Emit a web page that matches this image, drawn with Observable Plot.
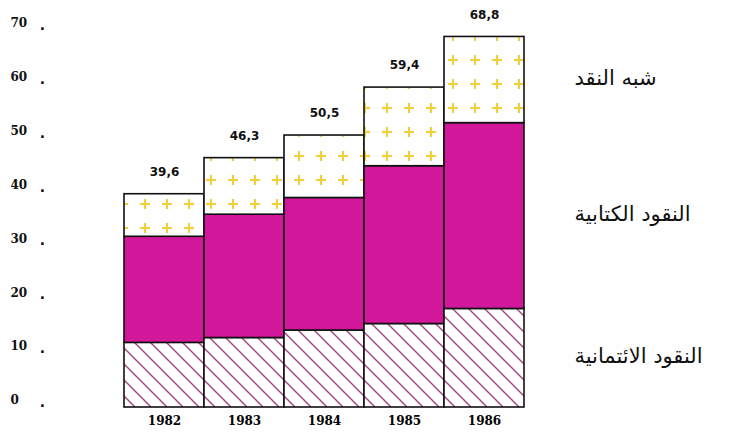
<!DOCTYPE html>
<html>
<head>
<meta charset="utf-8">
<script src="https://cdn.jsdelivr.net/npm/d3@7"></script>
<script src="https://cdn.jsdelivr.net/npm/@observablehq/plot@0.6"></script>
<style>
  html, body { margin: 0; padding: 0; background: #fff; }
  #chart svg { display: block; }
</style>
</head>
<body>
<div id="chart"></div>
<script>
// ---- data ----
const years = ["1982", "1983", "1984", "1985", "1986"];
const seriesNames = ["النقود الائتمانية", "النقود الكتابية", "شبه النقد"];
const creditMoney = [12.0, 12.9, 14.3, 15.5, 18.3];      // النقود الائتمانية
const scripturalMoney = [19.7, 22.9, 24.6, 29.3, 34.5];  // النقود الكتابية
const quasiMoney = [7.9, 10.5, 11.6, 14.6, 16.0];        // شبه النقد
const totalLabels = ["39,6", "46,3", "50,5", "59,4", "68,8"];
const totals = [39.6, 46.3, 50.5, 59.4, 68.8];
const yTicks = [0, 10, 20, 30, 40, 50, 60, 70];

// ---- long table ----
const seriesValues = [creditMoney, scripturalMoney, quasiMoney];
const rows = [];
years.forEach((yr, i) => {
  seriesNames.forEach((s, k) => rows.push({year: yr, series: s, value: seriesValues[k][i]}));
});
const totalRows = years.map((yr, i) => ({year: yr, total: totals[i], label: totalLabels[i]}));
// legend labels placed beside the last bar's segments
const last = years.length - 1;
const legendRows = [];
let cum = 0;
seriesNames.forEach((s, k) => {
  const v = seriesValues[k][last];
  legendRows.push({year: years[last], mid: cum + v / 2, name: s});
  cum += v;
});

const plot = Plot.plot({
  width: 733,
  height: 442,
  marginLeft: 122,
  marginRight: 207,
  marginTop: 30,
  marginBottom: 35,
  style: {background: "#fff", overflow: "visible"},
  x: {domain: years, padding: 0, label: null, tickSize: 0},
  y: {domain: [0, 70], axis: null},
  color: {domain: seriesNames, range: ["url(#hatch)", "#d3179a", "url(#plus)"]},
  marks: [
    Plot.barY(rows, Plot.stackY({
      x: "year", y: "value", fill: "series", order: null,
      stroke: "#111", strokeWidth: 1.6, inset: 0
    })),
    Plot.axisX({tickSize: 0, tickPadding: 9, fontSize: 12, fontWeight: "bold",
      fontFamily: "DejaVu Serif", label: null}),
    Plot.text(totalRows, {x: "year", y: "total", text: "label", dy: -22,
      fontSize: 12, fontWeight: "bold", fontFamily: "DejaVu Sans", fill: "#111"}),
    Plot.text(yTicks, {y: d => d, text: d => String(d), frameAnchor: "left",
      textAnchor: "start", dx: -112, dy: -7, fontSize: 12, fontWeight: "bold",
      fontFamily: "DejaVu Serif", fill: "#111"}),
    Plot.text(yTicks, {y: d => d, text: () => ".", frameAnchor: "left",
      textAnchor: "middle", dx: -80, dy: -5, fontSize: 14, fontWeight: "bold",
      fontFamily: "DejaVu Sans", fill: "#111"}),
    Plot.text(legendRows, {x: "year", y: "mid", text: "name", textAnchor: "start",
      dx: 90, dy: -2, fontSize: 21, fontFamily: "DejaVu Sans", fill: "#111"})
  ]
});

// pattern definitions (styles only)
const svg = d3.select(plot);
const defs = svg.insert("defs", ":first-child");
const hatch = defs.append("pattern").attr("id", "hatch")
  .attr("patternUnits", "userSpaceOnUse").attr("width", 16).attr("height", 16);
hatch.append("rect").attr("width", 16).attr("height", 16).attr("fill", "#fff");
hatch.append("path").attr("d", "M0,0L16,16M-4,12L4,20M12,-4L20,4")
  .attr("stroke", "#a8457f").attr("stroke-width", 1.4);
const plus = defs.append("pattern").attr("id", "plus")
  .attr("patternUnits", "userSpaceOnUse").attr("width", 22).attr("height", 24)
  .attr("x", 2).attr("y", 0);
plus.append("rect").attr("width", 22).attr("height", 24).attr("fill", "#fff");
plus.append("path").attr("d", "M11,7V17M6,12H16")
  .attr("stroke", "#f0cf3a").attr("stroke-width", 2);

document.getElementById("chart").appendChild(plot);
</script>
</body>
</html>
